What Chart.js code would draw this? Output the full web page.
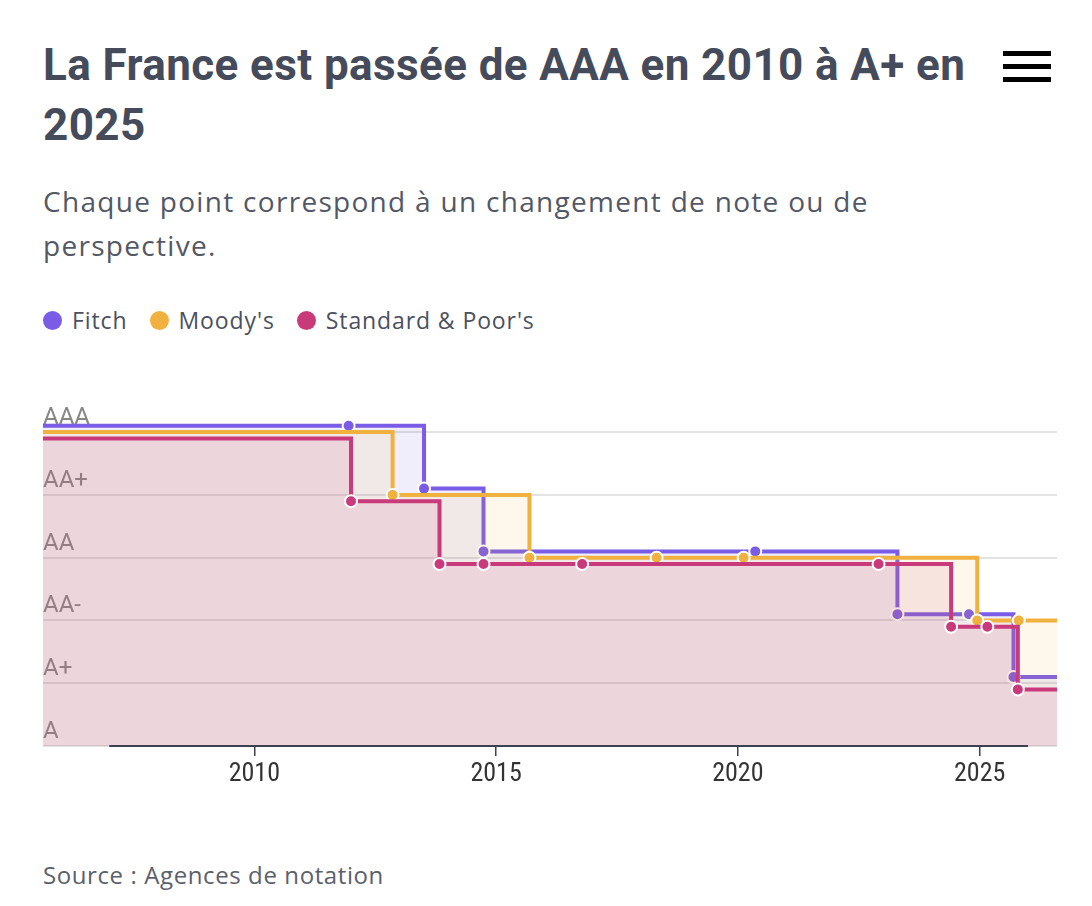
<!DOCTYPE html>
<html lang="fr">
<head>
<meta charset="utf-8">
<title>Notes de la France</title>
<script src="https://cdn.jsdelivr.net/npm/chart.js@4.4.1/dist/chart.umd.min.js"></script>
<style>
    body { margin: 0; background: #fff; width: 1092px; height: 906px; position: relative; overflow: hidden; }
    .title { position: absolute; left: 43px; top: 35px; width: 950px; margin: 0;
        font: 700 44px/60px Roboto, sans-serif; letter-spacing: 0.4px; color: #454b5b; }
    .menu { position: absolute; left: 1003px; top: 51px; width: 48px; }
    .menu span { display: block; height: 5px; background: #000; margin-bottom: 8px; }
    .subtitle { position: absolute; left: 43px; top: 179px; width: 920px; margin: 0;
        font: 400 28px/44px "Open Sans", sans-serif; letter-spacing: 1.3px; color: #525866; }
    .legend { position: absolute; left: 43px; top: 305px; display: flex; gap: 22px;
        font: 400 23px/30px "Open Sans", sans-serif; letter-spacing: 0.9px; color: #4b5060; }
    .legend div { display: flex; align-items: center; }
    .legend i { width: 19px; height: 19px; border-radius: 50%; margin-right: 10px; display: inline-block; }
    .chart-box { position: absolute; left: 43px; top: 380px; width: 1014px; height: 426px; }
    .source { position: absolute; left: 43px; top: 858px; margin: 0;
        font: 400 24px/34px "Open Sans", sans-serif; letter-spacing: 0.6px; color: #5b606c; }
</style>
</head>
<body>
    <h1 class="title">La France est passée de AAA en 2010 à A+ en 2025</h1>
    <div class="menu"><span></span><span></span><span></span></div>
    <p class="subtitle">Chaque point correspond à un changement de note ou de perspective.</p>
    <div class="legend" id="legend"></div>
    <div class="chart-box"><canvas id="ratingsChart"></canvas></div>
    <p class="source">Source : Agences de notation</p>

<script>
// Rating scale, lowest first
const RATINGS = ["A", "A+", "AA-", "AA", "AA+", "AAA"];
const TICK_YEARS = [2010, 2015, 2020, 2025];

// Series: each point is a change of rating or outlook (decimal years)
const AGENCIES = ["Fitch", "Moody's", "Standard & Poor's"];
const START_RATING = "AAA";

const FITCH_DATES = [2011.95, 2013.51, 2014.74, 2020.36, 2023.3, 2024.78, 2025.7];
const FITCH_NOTES = ["AAA", "AA+", "AA", "AA", "AA-", "AA-", "A+"];

const MOODYS_DATES = [2012.86, 2015.69, 2018.32, 2020.12, 2024.95, 2025.81];
const MOODYS_NOTES = ["AA+", "AA", "AA", "AA", "AA-", "AA-"];

const SP_DATES = [2012.0, 2013.83, 2014.74, 2016.78, 2022.91, 2024.41, 2025.16, 2025.79];
const SP_NOTES = ["AA+", "AA", "AA", "AA", "AA", "AA-", "AA-", "A+"];

// Config
const X_MIN = 2005.63;
const X_MAX = 2026.6;
const AXIS_FROM = 2007;
const AXIS_TO = 2026;
const COLORS = ["#7a5ce6", "#f1b13f", "#c93a7a"];
const FILLS = ["rgba(122, 92, 230, 0.1)", "rgba(241, 177, 63, 0.1)", "rgba(201, 58, 122, 0.1)"];
const LINE_GAP = 0.1; // small vertical shift so the three lines don't overlap

function buildSeries(dates, notes, shift) {
    const rows = [{ x: X_MIN - 1, y: RATINGS.indexOf(START_RATING) + shift }];
    dates.forEach((d, i) => rows.push({ x: d, y: RATINGS.indexOf(notes[i]) + shift }));
    rows.push({ x: X_MAX + 1, y: RATINGS.indexOf(notes[notes.length - 1]) + shift });
    return rows;
}

const seriesData = [
    buildSeries(FITCH_DATES, FITCH_NOTES, LINE_GAP),
    buildSeries(MOODYS_DATES, MOODYS_NOTES, 0),
    buildSeries(SP_DATES, SP_NOTES, -LINE_GAP)
];

// HTML legend
document.getElementById("legend").innerHTML = AGENCIES
    .map((name, i) => `<div><i style="background:${COLORS[i]}"></i>${name}</div>`)
    .join("");

// Dark baseline under the chart, only over part of the width
const axisLinePlugin = {
    id: "axisLine",
    afterDatasetsDraw(chart) {
        const { ctx, chartArea, scales } = chart;
        ctx.save();
        ctx.strokeStyle = "#3d4150";
        ctx.lineWidth = 2;
        ctx.beginPath();
        ctx.moveTo(scales.x.getPixelForValue(AXIS_FROM), chartArea.bottom);
        ctx.lineTo(scales.x.getPixelForValue(AXIS_TO), chartArea.bottom);
        ctx.stroke();
        ctx.restore();
    }
};

const ctx = document.getElementById("ratingsChart").getContext("2d");
new Chart(ctx, {
    type: "line",
    data: {
        datasets: AGENCIES.map((name, i) => ({
            label: name,
            data: seriesData[i],
            borderColor: COLORS[i],
            backgroundColor: FILLS[i],
            fill: "start",
            stepped: true,
            borderWidth: 4,
            pointRadius: seriesData[i].map((_, j) => (j === 0 || j === seriesData[i].length - 1) ? 0 : 6),
            pointBackgroundColor: COLORS[i],
            pointBorderColor: "#ffffff",
            pointBorderWidth: 2,
            order: 2 - i
        }))
    },
    options: {
        responsive: true,
        maintainAspectRatio: false,
        animation: false,
        plugins: {
            legend: { display: false },
            tooltip: { enabled: false }
        },
        scales: {
            x: {
                type: "linear",
                min: X_MIN,
                max: X_MAX,
                afterBuildTicks: scale => { scale.ticks = TICK_YEARS.map(v => ({ value: v })); },
                afterFit: scale => { scale.height = 60; scale.paddingLeft = 0; scale.paddingRight = 0; },
                border: { display: false },
                grid: { drawOnChartArea: false, drawTicks: true, tickLength: 10, color: "#3d4150", lineWidth: 1.5 },
                ticks: {
                    padding: 3,
                    color: "#333333",
                    font: { family: "'Liberation Sans Narrow', 'Roboto Condensed', Roboto", size: 26 },
                    callback: value => String(value)
                }
            },
            y: {
                type: "linear",
                min: 0,
                max: 5.83,
                afterBuildTicks: scale => { scale.ticks = RATINGS.map((_, i) => ({ value: i })); },
                afterFit: scale => { scale.width = 0; scale.paddingTop = 0; scale.paddingBottom = 0; },
                border: { display: false },
                grid: { color: "#e3e3e3", lineWidth: 2, drawTicks: false },
                ticks: {
                    mirror: true,
                    padding: 0,
                    labelOffset: -14,
                    color: "#868686",
                    font: { family: "Roboto", size: 24 },
                    callback: value => RATINGS[value]
                }
            }
        }
    },
    plugins: [axisLinePlugin]
});
</script>
</body>
</html>
